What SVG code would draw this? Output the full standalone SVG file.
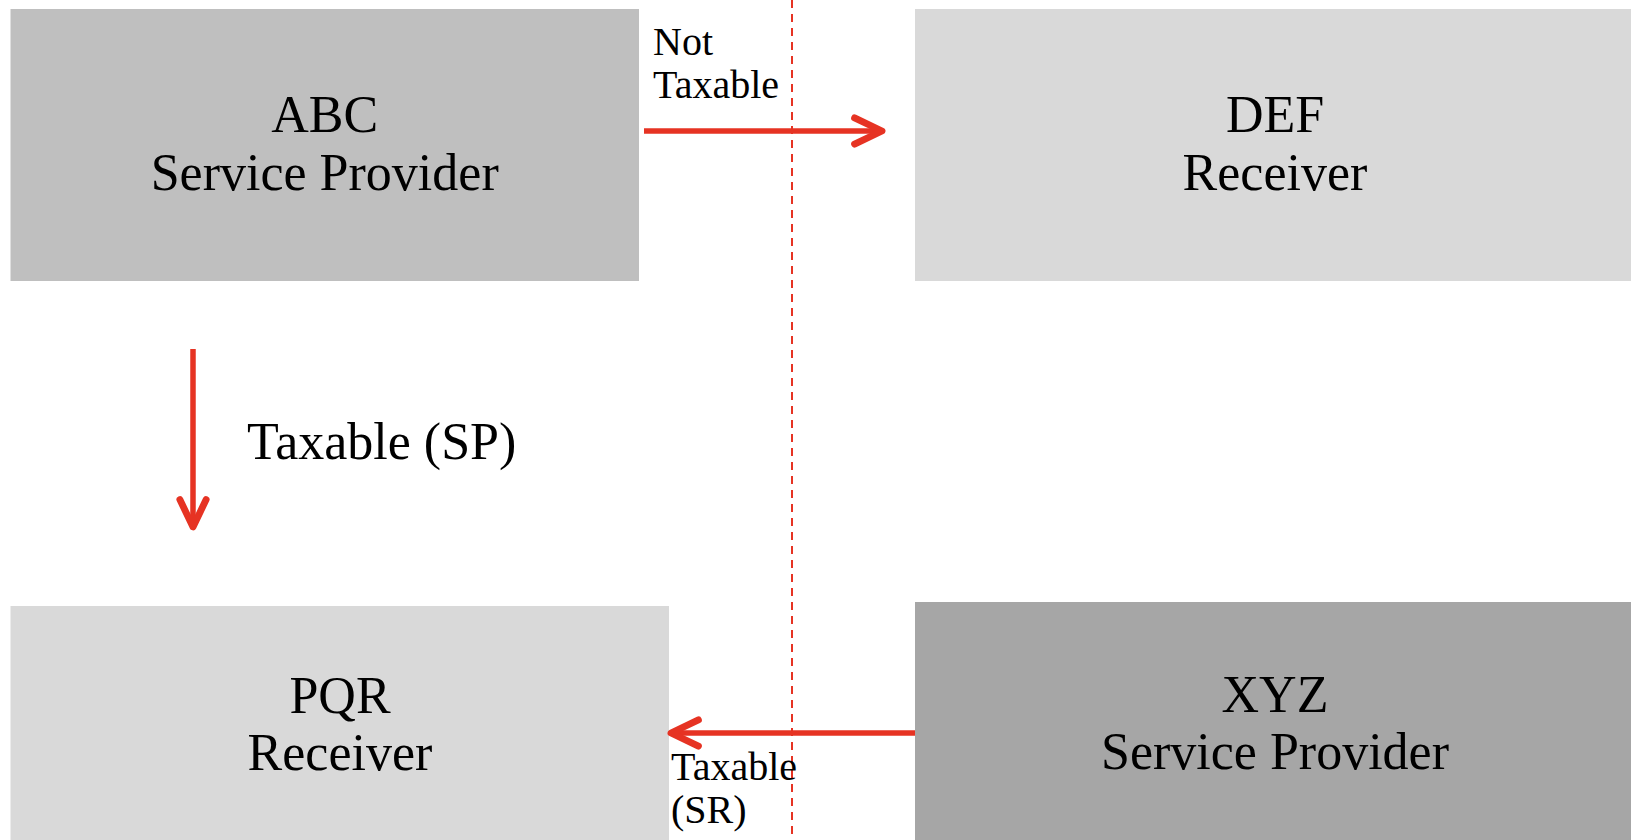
<svg xmlns="http://www.w3.org/2000/svg" width="1631" height="840" viewBox="0 0 1631 840">
<style>
.box-label{font-family:"Liberation Serif","Times New Roman",serif;font-size:52px;fill:#000;text-anchor:middle}
.edge-label{font-family:"Liberation Serif","Times New Roman",serif;fill:#000}
.conn{stroke:#e63323;stroke-width:5.5;fill:none}
</style>
<defs>
<marker id="chev" markerUnits="userSpaceOnUse" markerWidth="40" markerHeight="40" viewBox="-30 -15 35 30" refX="0" refY="0" orient="auto" overflow="visible">
<path d="M-24,-11.5 L0,0 L-24,11.5" stroke="#e63323" stroke-width="6" fill="none" stroke-linecap="round" stroke-linejoin="round"/>
</marker>
</defs>
<rect width="1631" height="840" fill="#ffffff"/>
<g id="node-abc">
<rect x="10.5" y="9" width="628.5" height="272" fill="#bfbfbf"/>
<text class="box-label" x="324.7" y="132">ABC</text>
<text class="box-label" x="324.7" y="190">Service Provider</text>
</g>
<g id="node-def">
<rect x="915" y="9" width="716" height="272" fill="#d9d9d9"/>
<text class="box-label" x="1275" y="132">DEF</text>
<text class="box-label" x="1275" y="190">Receiver</text>
</g>
<g id="node-pqr">
<rect x="10.5" y="606" width="658.5" height="234" fill="#d9d9d9"/>
<text class="box-label" x="340" y="713">PQR</text>
<text class="box-label" x="340" y="770">Receiver</text>
</g>
<g id="node-xyz">
<rect x="915" y="602" width="716" height="238" fill="#a6a6a6"/>
<text class="box-label" x="1275" y="712">XYZ</text>
<text class="box-label" x="1275" y="769">Service Provider</text>
</g>
<g id="divider">
<line x1="792" y1="0" x2="792" y2="840" stroke="#e63323" stroke-width="2" stroke-dasharray="8 6"/>
</g>
<g id="connectors">
<line class="conn" x1="644" y1="131" x2="882" y2="131" marker-end="url(#chev)"/>
<line class="conn" x1="193" y1="349" x2="193" y2="527" marker-end="url(#chev)"/>
<line class="conn" x1="915" y1="733" x2="671" y2="733" marker-end="url(#chev)"/>
</g>
<g id="labels">
<text class="edge-label" x="653" y="55" font-size="40">Not</text>
<text class="edge-label" x="653" y="98" font-size="40">Taxable</text>
<text class="edge-label" x="247" y="459" font-size="52">Taxable (SP)</text>
<text class="edge-label" x="671" y="780" font-size="40">Taxable</text>
<text class="edge-label" x="671" y="823" font-size="40">(SR)</text>
</g>
</svg>
